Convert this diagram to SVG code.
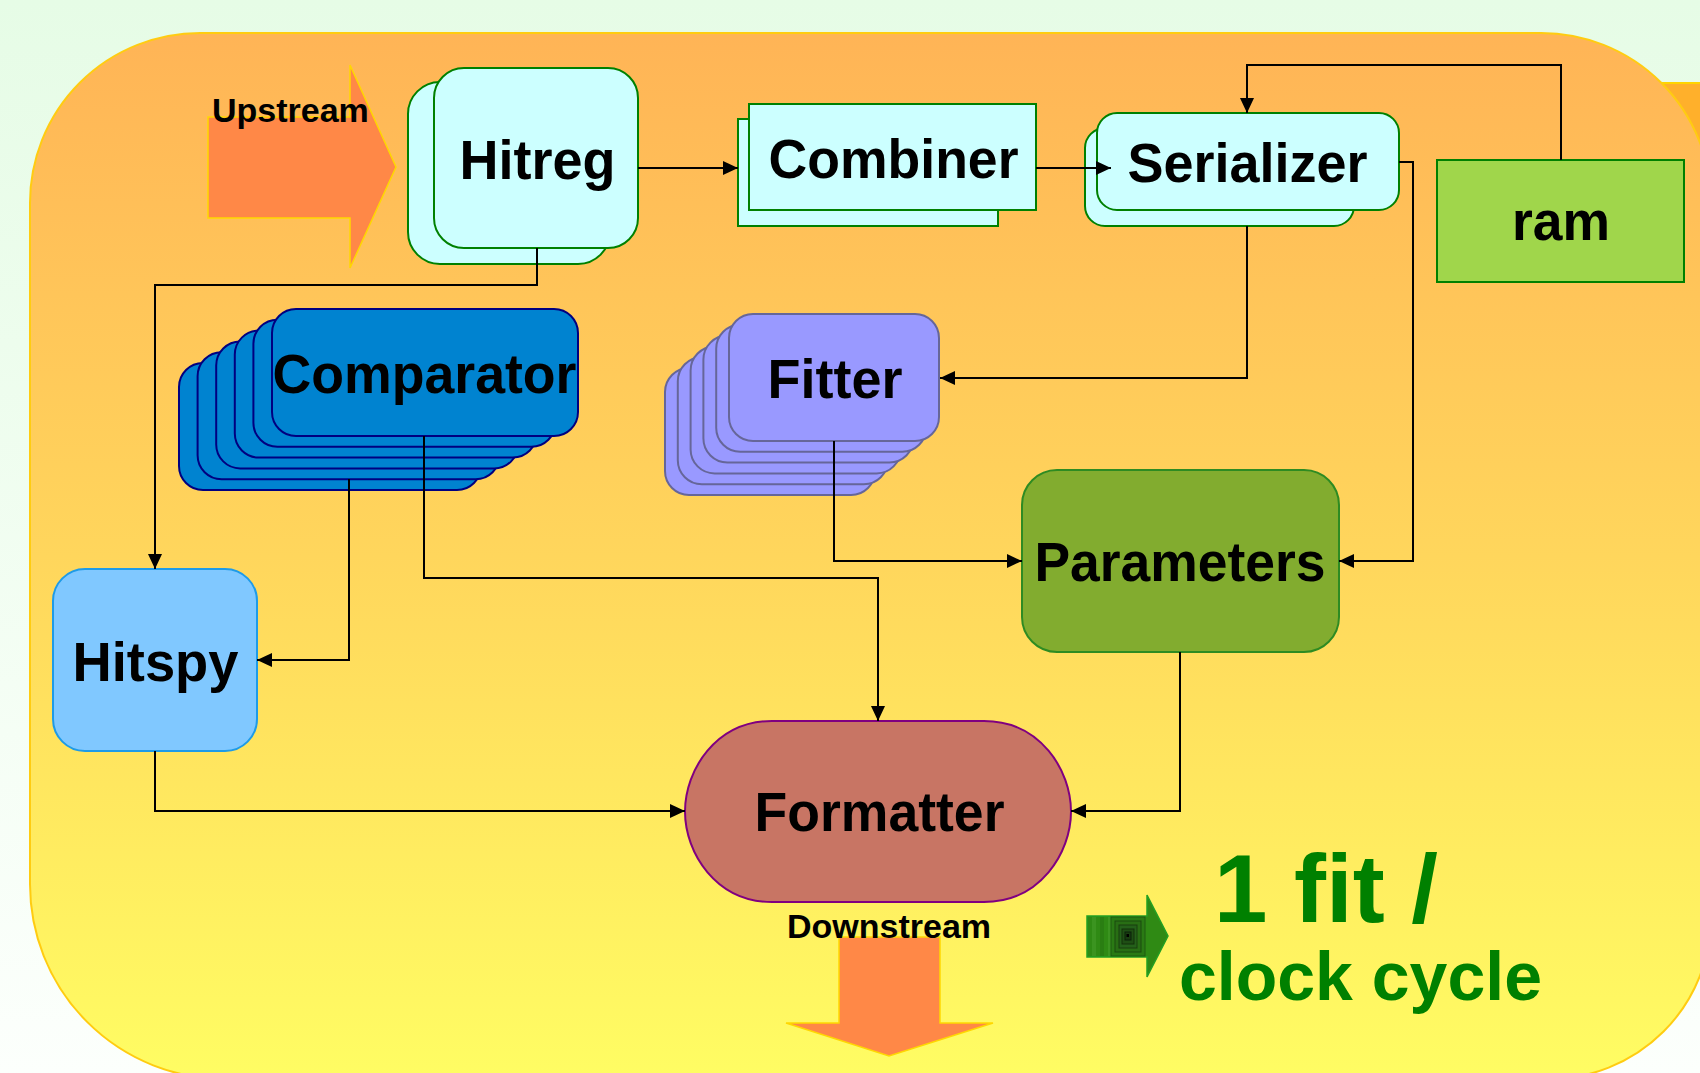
<svg xmlns="http://www.w3.org/2000/svg" width="1700" height="1073" viewBox="0 0 1700 1073">
<defs>
<linearGradient id="bg" x1="0" y1="0" x2="0" y2="1">
<stop offset="0" stop-color="#E6FCE6"/>
<stop offset="1" stop-color="#FCFFFC"/>
</linearGradient>
<linearGradient id="panel" x1="0" y1="0" x2="0" y2="1">
<stop offset="0" stop-color="#FFB456"/>
<stop offset="0.5" stop-color="#FFD65C"/>
<stop offset="1" stop-color="#FFFD63"/>
</linearGradient>
<marker id="ah" markerUnits="userSpaceOnUse" markerWidth="16" markerHeight="15" refX="15" refY="7" orient="auto">
<path d="M0,0 L15,7 L0,14 Z" fill="#000"/>
</marker>
<style>
.lbl{font-family:"Liberation Sans",Arial,sans-serif;font-weight:bold;fill:#000;text-anchor:middle;font-size:56px}
.sm{font-family:"Liberation Sans",Arial,sans-serif;font-weight:bold;fill:#000;font-size:34px}
.grn{font-family:"Liberation Sans",Arial,sans-serif;font-weight:bold;fill:#008000}
.cyan{fill:#CCFFFF;stroke:#008000;stroke-width:2}
.cmp{fill:#0083D0;stroke:#000080;stroke-width:2}
.fit{fill:#9999FF;stroke:#666699;stroke-width:2}
.big{fill:#FF8847;stroke:#FFD700;stroke-width:1.5}
.conn{fill:none;stroke:#000;stroke-width:2}
</style>
</defs>
<rect width="1700" height="1073" fill="url(#bg)"/>
<rect x="1600" y="83" width="200" height="200" fill="#FFB02B" stroke="#FFD400" stroke-width="2"/>
<path d="M200,33 H1541 A170,170 0 0 1 1711,203 V917 A162,162 0 0 1 1549,1079 H225 A195,195 0 0 1 30,884 V203 A170,170 0 0 1 200,33 Z" fill="url(#panel)" stroke="#FFCC11" stroke-width="2"/>

<g id="upstream">
<polygon class="big" points="208,117 350,117 350,65 396,167 350,268 350,218 208,218"/>
<text class="sm" x="212" y="122">Upstream</text>
</g>

<g id="hitreg">
<rect class="cyan" x="408" y="82" width="202" height="182" rx="32"/>
<rect class="cyan" x="434" y="68" width="204" height="180" rx="30"/>
<text class="lbl" x="537.5" y="179" textLength="156" lengthAdjust="spacingAndGlyphs">Hitreg</text>
</g>

<g id="combiner">
<rect class="cyan" x="738" y="119" width="260" height="107"/>
<rect class="cyan" x="749" y="104" width="287" height="106"/>
<text class="lbl" x="893.5" y="178" textLength="250" lengthAdjust="spacingAndGlyphs">Combiner</text>
</g>

<g id="serializer">
<rect class="cyan" x="1085" y="128" width="269" height="98" rx="20"/>
<rect class="cyan" x="1097" y="113" width="302" height="97" rx="20"/>
<text class="lbl" x="1247.5" y="182" textLength="240" lengthAdjust="spacingAndGlyphs">Serializer</text>
</g>

<g id="ram">
<rect x="1437" y="160" width="247" height="122" fill="#A0D64B" stroke="#008000" stroke-width="2"/>
<text class="lbl" x="1561" y="240" textLength="98" lengthAdjust="spacingAndGlyphs">ram</text>
</g>

<g id="comparator">
<rect class="cmp" x="179" y="363" width="302" height="127" rx="24"/>
<rect class="cmp" x="197.6" y="352.2" width="302" height="127" rx="24"/>
<rect class="cmp" x="216.2" y="341.4" width="302" height="127" rx="24"/>
<rect class="cmp" x="234.8" y="330.6" width="302" height="127" rx="24"/>
<rect class="cmp" x="253.4" y="319.8" width="302" height="127" rx="24"/>
<rect class="cmp" x="272" y="309" width="306" height="127" rx="24"/>
<text class="lbl" x="424.5" y="393" textLength="304" lengthAdjust="spacingAndGlyphs">Comparator</text>
</g>

<g id="fitter">
<rect class="fit" x="665" y="368" width="210" height="127" rx="24"/>
<rect class="fit" x="677.8" y="357.2" width="210" height="127" rx="24"/>
<rect class="fit" x="690.6" y="346.4" width="210" height="127" rx="24"/>
<rect class="fit" x="703.4" y="335.6" width="210" height="127" rx="24"/>
<rect class="fit" x="716.2" y="324.8" width="210" height="127" rx="24"/>
<rect class="fit" x="729" y="314" width="210" height="127" rx="24"/>
<text class="lbl" x="835" y="398" font-size="54" textLength="135" lengthAdjust="spacingAndGlyphs">Fitter</text>
</g>

<g id="hitspy">
<rect x="53" y="569" width="204" height="182" rx="32" fill="#80C8FF" stroke="#1E9BE8" stroke-width="2"/>
<text class="lbl" x="155.5" y="681" textLength="166" lengthAdjust="spacingAndGlyphs">Hitspy</text>
</g>

<g id="parameters">
<rect x="1022" y="470" width="317" height="182" rx="35" fill="#82AC2F" stroke="#2E8B22" stroke-width="2"/>
<text class="lbl" x="1180" y="581" font-size="54" textLength="291" lengthAdjust="spacingAndGlyphs">Parameters</text>
</g>

<g id="formatter">
<path d="M772,721 H984 C1040,721 1071,770 1071,811.5 C1071,853 1040,902 984,902 H772 C716,902 685,853 685,811.5 C685,770 716,721 772,721 Z" fill="#C87564" stroke="#800080" stroke-width="2"/>
<text class="lbl" x="879.5" y="831" font-size="54" textLength="250" lengthAdjust="spacingAndGlyphs">Formatter</text>
</g>

<g id="downstream">
<polygon class="big" points="839,937 940,937 940,1023 993,1023 889,1056 786,1023 839,1023"/>
<text class="sm" x="889" y="938" text-anchor="middle">Downstream</text>
</g>

<g id="rate">
<polygon points="1087,916 1147,916 1147,895 1168,936 1147,977 1147,957 1087,957" fill="#2F8A14" stroke="#22A022" stroke-width="1.5"/>
<rect x="1092" y="917" width="4" height="39" fill="#3B9420"/>
<rect x="1100" y="917" width="4" height="39" fill="#2A7E12"/>
<rect x="1108" y="917" width="4" height="39" fill="#3B9420"/>
<rect x="1111" y="917" width="34" height="39" fill="#2A7A14" stroke="#1E5A10" stroke-width="1"/>
<rect x="1115" y="921" width="26" height="31" fill="#286E14" stroke="#1A4A0E" stroke-width="1"/>
<rect x="1119" y="925" width="18" height="23" fill="#24601A" stroke="#183E0E" stroke-width="1"/>
<rect x="1122" y="929" width="12" height="15" fill="#1E4E14" stroke="#12300A" stroke-width="1"/>
<rect x="1125" y="932" width="6" height="8" fill="#183C10" stroke="#0A200A" stroke-width="1"/>
<rect x="1126.5" y="934" width="2.5" height="3" fill="#000"/>
<text class="grn" x="1214" y="922" font-size="96">1 fit /</text>
<text class="grn" x="1179" y="1000" font-size="68">clock cycle</text>
</g>

<g id="connectors">
<path class="conn" d="M638,168 H738" marker-end="url(#ah)"/>
<path class="conn" d="M1036,168 H1111" marker-end="url(#ah)"/>
<path class="conn" d="M1561,160 V65 H1247 V113" marker-end="url(#ah)"/>
<path class="conn" d="M1399,162 H1413 V561 H1339" marker-end="url(#ah)"/>
<path class="conn" d="M1247,226 V378 H940" marker-end="url(#ah)"/>
<path class="conn" d="M537,248 V285 H155 V569" marker-end="url(#ah)"/>
<path class="conn" d="M349,479 V660 H257" marker-end="url(#ah)"/>
<path class="conn" d="M424,436 V578 H878 V721" marker-end="url(#ah)"/>
<path class="conn" d="M834,441 V561 H1022" marker-end="url(#ah)"/>
<path class="conn" d="M1180,652 V811 H1071" marker-end="url(#ah)"/>
<path class="conn" d="M155,751 V811 H685" marker-end="url(#ah)"/>
</g>
</svg>
